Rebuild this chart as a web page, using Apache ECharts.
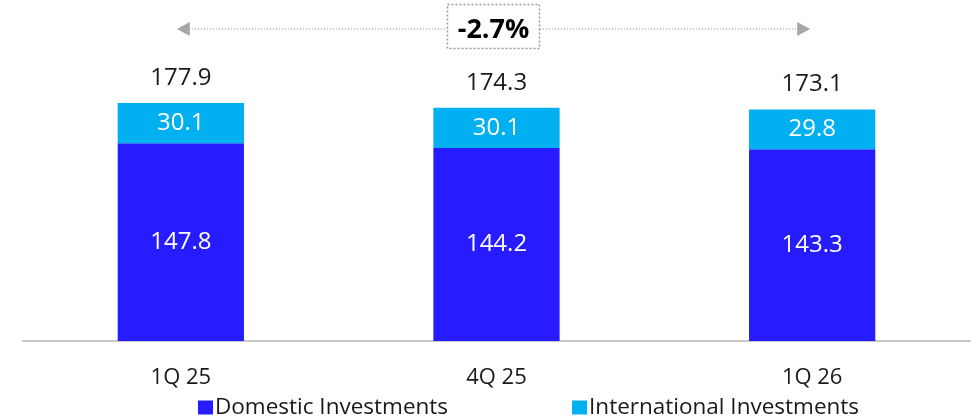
<!DOCTYPE html>
<html><head><meta charset="utf-8">
<script src="https://cdn.jsdelivr.net/npm/echarts@6/dist/echarts.min.js"></script>
<style>html,body{margin:0;padding:0;background:#fff}#c{width:980px;height:418px}</style>
</head><body><div id="c"></div>
<script>
const categories = ['1Q 25', '4Q 25', '1Q 26'];
const domestic = [147.8, 144.2, 143.3];
const international = [30.1, 30.1, 29.8];
const totals = [177.9, 174.3, 173.1];
const changeLabel = '-2.7%';

const FONT = '"Open Sans", "Noto Sans", sans-serif';
const chart = echarts.init(document.getElementById('c'));
const option = {
  animation: false,
  textStyle: { fontFamily: FONT },
  grid: { left: 23, right: 10, top: 73.4, bottom: 77, containLabel: false },
  legend: {
    data: ['Domestic Investments', 'International Investments'],
    left: 193, top: 391, itemWidth: 15, itemHeight: 14, itemGap: 124,
    icon: 'rect',
    textStyle: { fontSize: 22.5, color: '#1a1a1a', fontFamily: FONT, padding: [0, 0, 0, -3] }
  },
  xAxis: {
    type: 'category', data: categories,
    axisLine: { lineStyle: { color: '#c8c8c8', width: 2 } },
    axisTick: { show: false },
    axisLabel: { fontSize: 22, color: '#1a1a1a', margin: 26, fontFamily: FONT }
  },
  yAxis: { type: 'value', min: 0, max: 200, show: false, splitLine: { show: false } },
  series: [
    {
      name: 'Domestic Investments', type: 'bar', stack: 's', barWidth: '40%',
      data: domestic, itemStyle: { color: '#261CFF' },
      label: { show: true, position: 'inside', color: '#fff', fontSize: 24, fontFamily: FONT }
    },
    {
      name: 'International Investments', type: 'bar', stack: 's',
      data: international, itemStyle: { color: '#00B0F0' },
      label: { show: true, position: 'inside', color: '#fff', fontSize: 24, fontFamily: FONT }
    },
    {
      name: 'Total', type: 'bar', stack: 's', data: totals.map(() => 0),
      itemStyle: { color: 'transparent' },
      label: { show: true, position: 'top', distance: 13, color: '#1a1a1a', fontSize: 24, fontFamily: FONT,
        formatter: p => totals[p.dataIndex].toFixed(1) }
    }
  ]
};
chart.setOption(option);

const x0 = chart.convertToPixel({ xAxisIndex: 0 }, 0) - 4;
const x2 = chart.convertToPixel({ xAxisIndex: 0 }, 2) - 2;
const xm = (x0 + x2) / 2;
const y = 29;
chart.setOption({
  graphic: [
    { type: 'line', shape: { x1: x0 + 12, y1: y, x2: x2 - 12, y2: y },
      style: { stroke: '#aaaaaa', lineWidth: 1.5, lineDash: [1, 2] } },
    { type: 'polygon', shape: { points: [[x0, y], [x0 + 13, y - 7], [x0 + 13, y + 7]] },
      style: { fill: '#a6a6a6' } },
    { type: 'polygon', shape: { points: [[x2, y], [x2 - 13, y - 7], [x2 - 13, y + 7]] },
      style: { fill: '#a6a6a6' } },
    { type: 'rect', shape: { x: xm - 46, y: 4.5, width: 92, height: 44 },
      style: { fill: '#fff', stroke: '#999', lineWidth: 1.5, lineDash: [2, 2] }, z: 10 },
    { type: 'text', x: xm, y: y + 1, z: 11,
      style: { text: changeLabel, fontSize: 27, fontWeight: 'bold', fill: '#000', fontFamily: FONT,
        align: 'center', verticalAlign: 'middle' } }
  ]
});
</script></body></html>
